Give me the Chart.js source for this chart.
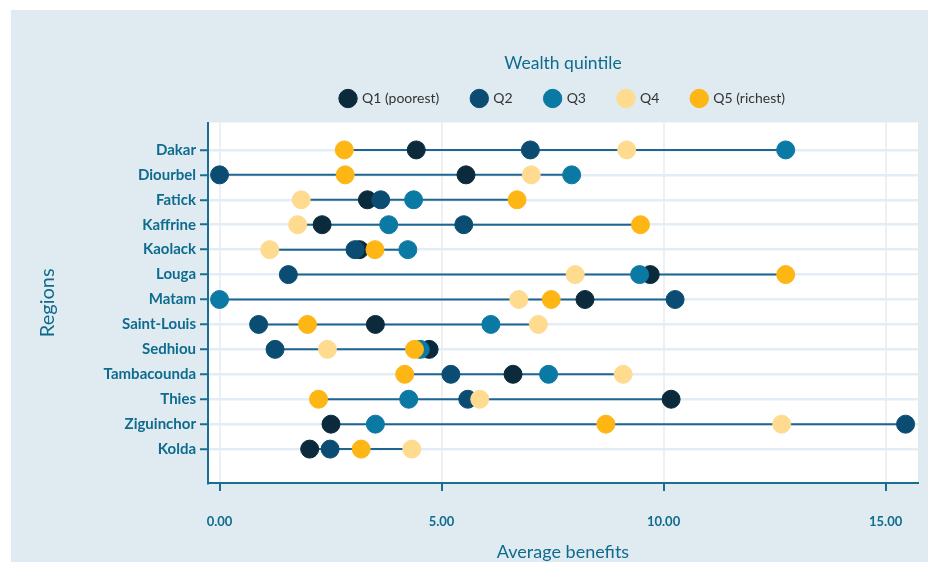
<!DOCTYPE html>
<html><head><meta charset="utf-8">
<script src="https://cdn.jsdelivr.net/npm/chart.js@4.4.1/dist/chart.umd.min.js"></script>
<style>html,body{margin:0;padding:0;background:#fff;} #wrap{width:928px;height:562px;}</style>
</head><body><div id="wrap"><canvas id="c" width="928" height="562"></canvas></div>
<script>
const regions = ['Dakar','Diourbel','Fatick','Kaffrine','Kaolack','Louga','Matam','Saint-Louis','Sedhiou','Tambacounda','Thies','Ziguinchor','Kolda'];
const q1 = [4.43, 5.55, 3.33, 2.31, 3.15, 9.70, 8.23, 3.51, 4.72, 6.61, 10.17, 2.51, 2.03];
const q2 = [7.00, 0.00, 3.63, 5.50, 3.05, 1.55, 10.26, 0.88, 1.25, 5.21, 5.59, 15.45, 2.49];
const q3 = [12.75, 7.93, 4.37, 3.81, 4.24, 9.46, 0.00, 6.11, 4.52, 7.41, 4.26, 3.51, null];
const q4 = [9.17, 7.02, 1.84, 1.76, 1.13, 8.01, 6.74, 7.18, 2.43, 9.09, 5.86, 12.66, 4.33];
const q5 = [2.81, 2.83, 6.70, 9.48, 3.50, 12.75, 7.47, 1.98, 4.39, 4.17, 2.23, 8.70, 3.19];
const seriesNames = ['Q1 (poorest)', 'Q2', 'Q3', 'Q4', 'Q5 (richest)'];
const xTickValues = [0, 5, 10, 15];

const series = [q1, q2, q3, q4, q5];
const colors = ['#0b2b3d', '#0b4d72', '#0a79a3', '#fedb8f', '#fdb614'];
const teal = '#0f6b8e';
const axisColor = '#1a6e94';

const dotSets = series.map((vals, k) => ({
  type: 'scatter',
  label: seriesNames[k],
  data: vals.map((v, i) => v == null ? null : {x: v, y: i}).filter(p => p),
  backgroundColor: colors[k],
  borderColor: colors[k],
  borderWidth: 1,
  pointRadius: 9,
  pointHoverRadius: 9,
  order: 5 - k,
  xAxisID: 'x', yAxisID: 'y'
}));

const rangeSets = regions.map((r, i) => {
  const vals = series.map(s => s[i]).filter(v => v != null);
  return {
    type: 'line',
    label: 'range ' + r,
    data: [{x: Math.min(...vals), y: i}, {x: Math.max(...vals), y: i}],
    borderColor: '#1f6591',
    borderWidth: 2,
    pointRadius: 0,
    showLine: true,
    order: 10,
    xAxisID: 'x', yAxisID: 'y'
  };
});

const bgPlugin = {
  id: 'bg',
  beforeDraw(chart) {
    const {ctx, chartArea: a} = chart;
    ctx.save();
    ctx.fillStyle = '#fff';
    ctx.fillRect(0, 0, chart.width, chart.height);
    ctx.fillStyle = '#dfebf1';
    ctx.fillRect(11, 10, chart.width - 11, chart.height - 10);
    ctx.fillStyle = '#fff';
    ctx.fillRect(a.left, a.top, a.right - a.left, a.bottom - a.top);
    ctx.restore();
  }
};

new Chart(document.getElementById('c'), {
  type: 'scatter',
  data: {datasets: [...dotSets, ...rangeSets]},
  plugins: [bgPlugin],
  options: {
    responsive: false,
    animation: false,
    layout: {padding: {top: 55, left: 0, right: 8, bottom: 0}},
    plugins: {
      legend: {
        position: 'top', fullSize: false, align: 'center',
        labels: {
          usePointStyle: true, pointStyle: 'circle', boxHeight: 13, padding: 33,
          color: '#333', font: {family: 'Lato', size: 14},
          filter: (item) => item.datasetIndex < 5,
          sort: (a, b) => a.datasetIndex - b.datasetIndex
        },
        title: {display: true, text: 'Wealth quintile', color: teal,
          font: {family: 'Lato', size: 17.5}, padding: {top: 0, bottom: -17.5}}
      },
      tooltip: {enabled: false}
    },
    scales: {
      x: {
        type: 'linear', position: 'bottom', min: -0.26, max: 15.73,
        afterBuildTicks: s => { s.ticks = xTickValues.map(v => ({value: v})); },
        afterFit: s => { s.height = 79; },
        grid: {color: '#eef0f2', lineWidth: 2, tickColor: axisColor, tickLength: 8, tickWidth: 2},
        border: {color: axisColor, width: 2},
        ticks: {color: teal, font: {family: 'Lato', size: 13, weight: 'bold'}, padding: 23,
          callback: v => Number(v).toFixed(2)},
        title: {display: true, text: 'Average benefits', color: teal,
          font: {family: 'Lato', size: 18}, padding: {top: 0, bottom: -1}}
      },
      xTop: {
        type: 'linear', position: 'top', display: true,
        grid: {display: false, drawTicks: false}, border: {display: false}, ticks: {display: false},
        afterFit: s => { s.height = 7; }
      },
      y: {
        type: 'linear', reverse: true, min: -1.1, max: 13.36,
        afterBuildTicks: s => { s.ticks = regions.map((_, i) => ({value: i})); },
        afterFit: s => { s.width = 208; },
        grid: {color: '#e4edf5', lineWidth: 2.5, tickColor: axisColor, tickLength: 8, tickWidth: 2},
        border: {color: axisColor, width: 2},
        ticks: {color: teal, font: {family: 'Lato', size: 15, weight: 'bold'}, padding: 4,
          callback: v => regions[v]},
        title: {display: true, text: 'Regions', color: teal,
          font: {family: 'Lato', size: 20}, padding: {top: 36, bottom: 0}}
      }
    }
  }
});
</script>
</body></html>
